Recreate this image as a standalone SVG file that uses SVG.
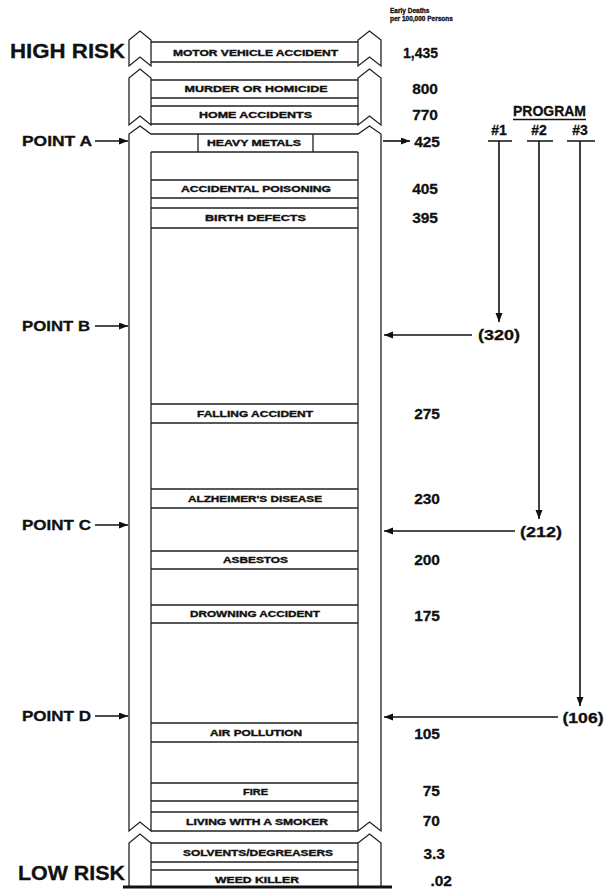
<svg xmlns="http://www.w3.org/2000/svg" width="607" height="892" viewBox="0 0 607 892">
<defs>
<style>
.t{font-family:"Liberation Sans",Arial,sans-serif;font-weight:bold;fill:#111;stroke:#111;stroke-width:0.3}
.lbl{font-size:8.5px;text-anchor:middle;stroke-width:0.35}
.num{font-size:15.5px;text-anchor:end}
.pt{font-size:14px}
.big{font-size:21px}
.ln{stroke:#222;stroke-width:1.3;fill:none}
.post{stroke:#222;stroke-width:1.3;fill:#fff}
.arr{stroke:#111;stroke-width:1.6;fill:none;marker-end:url(#ah)}
</style>
<marker id="ah" markerUnits="userSpaceOnUse" markerWidth="10" markerHeight="8" refX="9" refY="3.5" orient="auto">
<path d="M0,0 L9,3.5 L0,7 z" fill="#111"/>
</marker>
</defs>
<rect width="607" height="892" fill="#fff"/>

<g id="header">
<text class="t" x="390" y="13" font-size="6.5" stroke-width="0.2">Early Deaths</text>
<text class="t" x="390" y="21" font-size="6.5" stroke-width="0.2">per 100,000 Persons</text>
<text class="t big" x="10" y="58" textLength="115" lengthAdjust="spacingAndGlyphs">HIGH RISK</text>
<text class="t big" x="18" y="880" textLength="107" lengthAdjust="spacingAndGlyphs">LOW RISK</text>
</g>

<g id="segment1">
<path class="post" d="M129,66 L129,40 L140,31 L151,40 L151,66 L140,57 Z"/>
<path class="post" d="M358,66 L358,40 L369.5,31 L381,40 L381,66 L369.5,57 Z"/>
</g>
<g id="segment2">
<path class="post" d="M129,125 L129,78 L140,69 L151,78 L151,125 L140,116 Z"/>
<path class="post" d="M358,125 L358,78 L369.5,69 L381,78 L381,125 L369.5,116 Z"/>
</g>
<g id="segment3">
<path class="ln" d="M151,152 L151,831 L140,822 L129,831 L129,134 L140,126 L151,134 L358,134 L369.5,126 L381,134 L381,831 L369.5,822 L358,831 L358,152"/>
<line class="ln" x1="151" y1="152" x2="358" y2="152"/>
<line class="ln" x1="151" y1="831" x2="358" y2="831"/>
</g>
<g id="segment4">
<path class="ln" d="M129,886 L129,843 L140,834 L151,843 L151,886"/>
<path class="ln" d="M358,886 L358,843 L369.5,834 L381,843 L381,886"/>
<line x1="123" y1="887" x2="392" y2="887" stroke="#111" stroke-width="3"/>
</g>

<g id="motor-vehicle">
<path class="ln" d="M151,42 H358 M151,62 H358"/>
<text class="t lbl" x="255.5" y="56" textLength="165" lengthAdjust="spacingAndGlyphs">MOTOR VEHICLE ACCIDENT</text>
<text class="t num" x="438" y="57.5" textLength="35" lengthAdjust="spacingAndGlyphs">1,435</text>
</g>
<g id="murder">
<path class="ln" d="M151,80 H358 M151,98 H358"/>
<text class="t lbl" x="256" y="92" textLength="143" lengthAdjust="spacingAndGlyphs">MURDER OR HOMICIDE</text>
<text class="t num" x="438" y="93.5">800</text>
</g>
<g id="home">
<path class="ln" d="M151,106 H358 M151,124 H358"/>
<text class="t lbl" x="255.5" y="118" textLength="113" lengthAdjust="spacingAndGlyphs">HOME ACCIDENTS</text>
<text class="t num" x="438" y="119.5">770</text>
</g>
<g id="heavy-metals">
<path class="ln" d="M198,134 V152 M313,134 V152"/>
<text class="t lbl" x="254" y="146" textLength="94" lengthAdjust="spacingAndGlyphs">HEAVY METALS</text>
<text class="t num" x="440" y="146.5">425</text>
</g>
<g id="accidental-poisoning">
<path class="ln" d="M151,180 H358 M151,198 H358"/>
<text class="t lbl" x="256" y="192" textLength="150" lengthAdjust="spacingAndGlyphs">ACCIDENTAL POISONING</text>
<text class="t num" x="438" y="193.5">405</text>
</g>
<g id="birth-defects">
<path class="ln" d="M151,208 H358 M151,228 H358"/>
<text class="t lbl" x="255.5" y="221" textLength="101" lengthAdjust="spacingAndGlyphs">BIRTH DEFECTS</text>
<text class="t num" x="438" y="222.5">395</text>
</g>
<g id="falling">
<path class="ln" d="M151,404 H358 M151,423 H358"/>
<text class="t lbl" x="255" y="417" textLength="116" lengthAdjust="spacingAndGlyphs">FALLING ACCIDENT</text>
<text class="t num" x="440" y="418.5">275</text>
</g>
<g id="alzheimers">
<path class="ln" d="M151,489 H358 M151,508 H358"/>
<text class="t lbl" x="255" y="501.5" textLength="134" lengthAdjust="spacingAndGlyphs">ALZHEIMER'S DISEASE</text>
<text class="t num" x="440" y="503.5">230</text>
</g>
<g id="asbestos">
<path class="ln" d="M151,551 H358 M151,569 H358"/>
<text class="t lbl" x="255.5" y="563" textLength="65" lengthAdjust="spacingAndGlyphs">ASBESTOS</text>
<text class="t num" x="440" y="564.5">200</text>
</g>
<g id="drowning">
<path class="ln" d="M151,605 H358 M151,623 H358"/>
<text class="t lbl" x="255" y="617" textLength="130" lengthAdjust="spacingAndGlyphs">DROWNING ACCIDENT</text>
<text class="t num" x="440" y="620.5">175</text>
</g>
<g id="air-pollution">
<path class="ln" d="M151,723 H358 M151,742 H358"/>
<text class="t lbl" x="256" y="736" textLength="92" lengthAdjust="spacingAndGlyphs">AIR POLLUTION</text>
<text class="t num" x="440" y="738.5">105</text>
</g>
<g id="fire">
<path class="ln" d="M151,783 H358 M151,801 H358"/>
<text class="t lbl" x="255.5" y="795" textLength="25" lengthAdjust="spacingAndGlyphs">FIRE</text>
<text class="t num" x="440" y="795.5">75</text>
</g>
<g id="smoker">
<path class="ln" d="M151,812 H358"/>
<text class="t lbl" x="257" y="824.5" textLength="142" lengthAdjust="spacingAndGlyphs">LIVING WITH A SMOKER</text>
<text class="t num" x="440" y="825.5">70</text>
</g>
<g id="solvents">
<path class="ln" d="M151,843 H358 M151,862 H358"/>
<text class="t lbl" x="258" y="856" textLength="150" lengthAdjust="spacingAndGlyphs">SOLVENTS/DEGREASERS</text>
<text class="t num" x="445" y="858.5">3.3</text>
</g>
<g id="weed-killer">
<path class="ln" d="M151,870 H358"/>
<text class="t lbl" x="257" y="882.5" textLength="84" lengthAdjust="spacingAndGlyphs">WEED KILLER</text>
<text class="t num" x="452" y="885.5">.02</text>
</g>

<g id="points">
<text class="t pt" x="22" y="146" textLength="70" lengthAdjust="spacingAndGlyphs">POINT A</text>
<text class="t pt" x="22" y="331" textLength="68" lengthAdjust="spacingAndGlyphs">POINT B</text>
<text class="t pt" x="22" y="530" textLength="69" lengthAdjust="spacingAndGlyphs">POINT C</text>
<text class="t pt" x="22" y="721" textLength="69" lengthAdjust="spacingAndGlyphs">POINT D</text>
</g>

<g id="program">
<text class="t" x="513" y="116" font-size="14.5" textLength="73" lengthAdjust="spacingAndGlyphs">PROGRAM</text>
<line x1="513" y1="119.5" x2="586" y2="119.5" stroke="#111" stroke-width="1.5"/>
<text class="t" x="499" y="135" font-size="14" text-anchor="middle">#1</text>
<text class="t" x="539" y="135" font-size="14" text-anchor="middle">#2</text>
<text class="t" x="580" y="135" font-size="14" text-anchor="middle">#3</text>
<path d="M488,141 H512 M527,141 H553 M567,141 H595" stroke="#111" stroke-width="1.3"/>
<text class="t" x="499" y="340" font-size="14" text-anchor="middle" textLength="42" lengthAdjust="spacingAndGlyphs">(320)</text>
<text class="t" x="541" y="537" font-size="14" text-anchor="middle" textLength="42" lengthAdjust="spacingAndGlyphs">(212)</text>
<text class="t" x="583" y="723" font-size="14" text-anchor="middle" textLength="41" lengthAdjust="spacingAndGlyphs">(106)</text>
</g>

<g id="connectors">
<line class="arr" x1="95" y1="141" x2="128" y2="141"/>
<line class="arr" x1="95" y1="326" x2="128" y2="326"/>
<line class="arr" x1="95" y1="525" x2="128" y2="525"/>
<line class="arr" x1="95" y1="716" x2="128" y2="716"/>
<line class="arr" x1="383" y1="141" x2="410" y2="141"/>
<line class="arr" x1="499" y1="141" x2="499" y2="322"/>
<line class="arr" x1="472" y1="335" x2="384" y2="335"/>
<line class="arr" x1="539" y1="141" x2="539" y2="519"/>
<line class="arr" x1="515" y1="531" x2="384" y2="531"/>
<line class="arr" x1="580" y1="141" x2="580" y2="706"/>
<line class="arr" x1="558" y1="717" x2="384" y2="717"/>
</g>
</svg>
